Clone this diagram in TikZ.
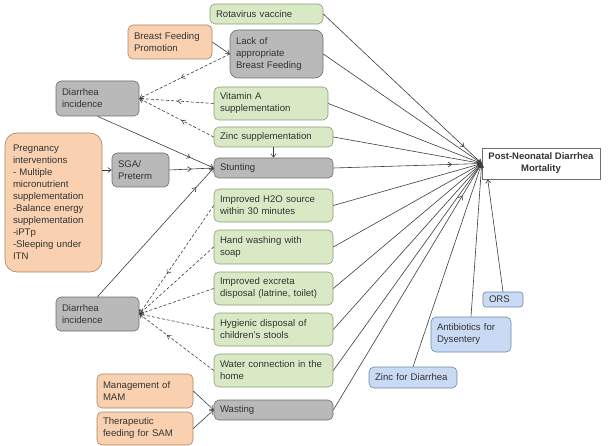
\documentclass[tikz,border=0pt]{standalone}
\usepackage{fontspec}
\setmainfont{Liberation Sans}
\usetikzlibrary{arrows.meta,decorations.markings}
\definecolor{grnfill}{HTML}{D9E9C6}
\definecolor{grnline}{HTML}{8A9E6E}
\definecolor{orgfill}{HTML}{F9D1B0}
\definecolor{orgline}{HTML}{A88466}
\definecolor{gryfill}{HTML}{B9B9B9}
\definecolor{gryline}{HTML}{6E6E6E}
\definecolor{blufill}{HTML}{C9DAF5}
\definecolor{bluline}{HTML}{6F85A8}
\definecolor{txt}{HTML}{333333}
\definecolor{lnk}{HTML}{3C3C3C}
\hyphenpenalty=10000

\begin{document}
\begin{tikzpicture}[x=1pt,y=-1pt,
    >={Straight Barb[length=3.5pt,width=5pt]},
    every node/.style={font=\fontsize{9.6}{12}\selectfont, text=txt},
    box/.style={draw, rounded corners=5pt, line width=0.6pt, align=left, inner xsep=6pt, inner ysep=1pt},
    greenbox/.style={box, fill=grnfill, draw=grnline},
    orangebox/.style={box, fill=orgfill, draw=orgline},
    graybox/.style={box, fill=gryfill, draw=gryline},
    bluebox/.style={box, fill=blufill, draw=bluline},
    link/.style={->, draw=lnk, line width=0.6pt},
    dashlink/.style={link, dash pattern=on 3pt off 2pt},
    midarr/.style={postaction={decorate}, decoration={markings, mark=at position #1 with {\arrow{>}}}}]
    \useasboundingbox (0,0) rectangle (609,446);

    \node[greenbox, text width=101pt, minimum height=20pt] (rota) at (266.5,14) {Rotavirus vaccine};
    \node[graybox, rounded corners=8pt, text width=81pt, minimum height=48pt] (lackbf) at (276.5,54) {Lack of\\appropriate\\Breast Feeding};
    \node[greenbox, text width=102pt, minimum height=33pt] (vita) at (271,103.5) {Vitamin A\\supplementation};
    \node[greenbox, text width=107pt, minimum height=20pt] (zinc) at (273.5,137) {Zinc supplementation};
    \node[graybox, text width=107pt, minimum height=20pt] (stunt) at (273.5,168) {Stunting};
    \node[greenbox, text width=107pt, minimum height=33pt] (htwoo) at (273.5,205.5) {Improved H2O source\\within 30 minutes};
    \node[greenbox, text width=107pt, minimum height=34pt] (hand) at (273.5,247) {Hand washing with\\soap};
    \node[greenbox, text width=107pt, minimum height=33pt] (excreta) at (273.5,288.5) {Improved excreta\\disposal (latrine, toilet)};
    \node[greenbox, text width=107pt, minimum height=33pt] (stools) at (273.5,329.5) {Hygienic disposal of\\children's stools};
    \node[greenbox, text width=107pt, minimum height=33pt] (water) at (273.5,370.5) {Water connection in the\\home};
    \node[graybox, text width=107pt, minimum height=20pt] (wasting) at (273.5,410) {Wasting};

    \node[orangebox, text width=72pt, minimum height=34pt] (bfp) at (170,42) {Breast Feeding\\Promotion};
    \node[orangebox, rounded corners=12pt, inner xsep=8pt, text width=81pt, minimum height=139pt] (preg) at (53.5,202.5) {Pregnancy\\interventions\\- Multiple\\micronutrient\\supplementation\\-Balance energy\\supplementation\\-iPTp\\-Sleeping under\\ITN};
    \node[orangebox, text width=84pt, minimum height=34pt] (mam) at (145,391) {Management of\\MAM};
    \node[orangebox, text width=84pt, minimum height=33pt] (sam) at (145,428.5) {Therapeutic\\feeding for SAM};

    \node[graybox, text width=71pt, minimum height=35pt] (diartop) at (97.5,98.5) {Diarrhea\\incidence};
    \node[graybox, text width=45pt, minimum height=34pt] (sga) at (140.5,170) {SGA/\\Preterm};
    \node[graybox, text width=71pt, minimum height=34pt] (diarbot) at (97.5,314) {Diarrhea\\incidence};

    \node[draw=gryline, fill=white, line width=0.6pt, align=center, minimum width=118pt, minimum height=31pt, inner sep=1pt, font=\fontsize{9.5}{12}\selectfont\bfseries] (target) at (541,163.5) {Post-Neonatal Diarrhea\\Mortality};

    \node[bluebox, rounded corners=3pt, text width=28pt, minimum height=15pt] (ors) at (503,299.5) {ORS};
    \node[bluebox, text width=68pt, minimum height=35pt] (antib) at (471,334.5) {Antibiotics for\\Dysentery};
    \node[bluebox, text width=76pt, minimum height=21pt] (zincd) at (413,377.5) {Zinc for Diarrhea};

    \draw[link, midarr=0.89] (rota.east) -- (target.west);
    \draw[link] (lackbf.east) -- (target.west);
    \draw[link] (vita.east) -- (target.west);
    \draw[link] (zinc.east) -- (target.west);
    \draw[link, midarr=0.8] (stunt.east) -- (target.west);
    \draw[link] (htwoo.east) -- (target.west);
    \draw[link] (hand.east) -- (target.west);
    \draw[link] (excreta.east) -- (target.west);
    \draw[link] (stools.east) -- (target.west);
    \draw[link] (water.east) -- (target.west);
    \draw[link, midarr=0.87] (wasting.east) -- (target.west);
    \draw[link] (ors.north) -- ([xshift=6pt]target.south west);
    \draw[link] (antib.north) -- (target.west);
    \draw[link] (zincd.north) -- (target.west);

    \draw[link] (bfp.east) -- (lackbf.west);
    \draw[dashlink, midarr=0.54] (lackbf.west) -- (diartop.east);
    \draw[dashlink, midarr=0.49] (vita.west) -- (diartop.east);
    \draw[dashlink, midarr=0.43] (zinc.west) -- (diartop.east);
    \draw[link] (zinc.south) -- (stunt.north);
    \draw[link, midarr=0.8] (diartop.south) -- (stunt.west);
    \draw[link, midarr=0.5] (sga.east) -- (stunt.west);
    \draw[link] (sga.west -| preg.east) -- (sga.west);
    \draw[link, midarr=0.85] (diarbot.north) -- (stunt.west);

    \draw[dashlink, midarr=0.63] (htwoo.west) -- (diarbot.east);
    \draw[dashlink] (hand.west) -- (diarbot.east);
    \draw[dashlink] (excreta.west) -- (diarbot.east);
    \draw[dashlink] (stools.west) -- (diarbot.east);
    \draw[dashlink, midarr=0.63] (water.west) -- (diarbot.east);

    \draw[link] (mam.east) -- (wasting.west);
    \draw[link] (sam.east) -- (wasting.west);
\end{tikzpicture}
\end{document}
